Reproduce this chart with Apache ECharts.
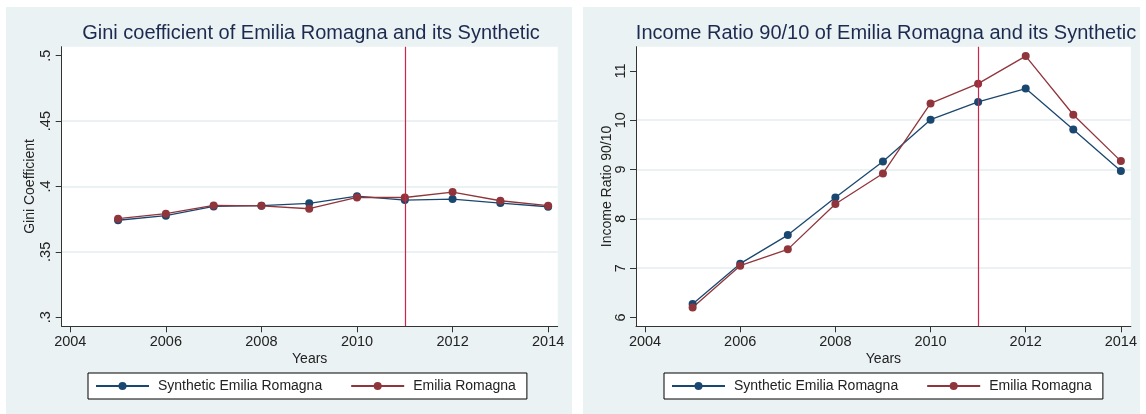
<!DOCTYPE html>
<html>
<head>
<meta charset="utf-8">
<script src="https://cdn.jsdelivr.net/npm/echarts@6/dist/echarts.min.js"></script>
<style>
  body { margin: 0; background: #fff; width: 1146px; height: 414px; position: relative; overflow: hidden; }
  .panel { position: absolute; top: 7px; height: 407px; background: #eaf2f3; }
  #left { left: 6px; width: 566px; }
  #right { left: 583px; width: 557px; }
</style>
</head>
<body>
<div id="left" class="panel"></div>
<div id="right" class="panel"></div>
<script>
const years = [2005, 2006, 2007, 2008, 2009, 2010, 2011, 2012, 2013, 2014];
const yearTicks = [2004, 2006, 2008, 2010, 2012, 2014];
const treatmentYear = 2011;

// Gini coefficient
const giniSynthetic = [0.3742, 0.3777, 0.3848, 0.3853, 0.3871, 0.3926, 0.3896, 0.3904, 0.3873, 0.3845];
const giniEmilia = [0.3754, 0.3792, 0.3855, 0.3852, 0.3830, 0.3916, 0.3916, 0.3957, 0.3891, 0.3853];
const giniTicks = [0.3, 0.35, 0.4, 0.45, 0.5];

// Income ratio 90/10
const ratioSynthetic = [6.27, 7.09, 7.67, 8.43, 9.16, 10.01, 10.37, 10.64, 9.81, 8.97];
const ratioEmilia = [6.20, 7.05, 7.38, 8.30, 8.92, 10.34, 10.74, 11.30, 10.11, 9.17];
const ratioTicks = [6, 7, 8, 9, 10, 11];

const FONT = "'Liberation Sans', Arial, sans-serif";
const BLUE = "#1a476f";
const RED = "#90353b";
const VLINE = "#c8274a";

const toPoints = (vals) => years.map((y, i) => [y, vals[i]]);

const buildOption = (cfg) => ({
  animation: false,
  textStyle: { fontFamily: FONT },
  title: {
    text: cfg.title,
    left: cfg.titleX,
    textAlign: "center",
    top: 16,
    padding: 0,
    textStyle: { fontSize: 20, fontWeight: "normal", color: "#1c2a4f", fontFamily: FONT },
  },
  grid: { left: cfg.gridLeft, right: cfg.gridRight, top: 39.7, bottom: 87.7, backgroundColor: "#fff", show: true, borderWidth: 0 },
  legend: {
    left: cfg.legendLeft,
    top: 366,
    itemWidth: 53,
    itemHeight: 10,
    itemGap: 28,
    padding: [6, 11, 6, 7],
    borderColor: "#000",
    borderWidth: 1,
    backgroundColor: "#fff",
    borderRadius: 0,
    textStyle: { fontSize: 14, color: "#222", fontFamily: FONT, padding: [0, 0, 0, 4] },
    data: ["Synthetic Emilia Romagna", "Emilia Romagna"],
  },
  xAxis: {
    type: "value",
    min: cfg.xMin,
    max: cfg.xMax,
    splitNumber: 5,
    name: "Years",
    nameLocation: "middle",
    nameGap: 26,
    nameMoveOverlap: false,
    nameTextStyle: { fontSize: 14, color: "#222", fontFamily: FONT },
    axisLine: { show: true, onZero: false, lineStyle: { color: "#333", width: 1 } },
    axisTick: { show: true, length: 6, customValues: yearTicks, lineStyle: { color: "#333" } },
    axisLabel: {
      customValues: yearTicks,
      margin: 8,
      fontSize: 14.5,
      color: "#222",
      fontFamily: FONT,
      formatter: (v) => String(Math.round(v)),
    },
    splitLine: { show: false },
  },
  yAxis: {
    type: "value",
    min: cfg.yMin,
    max: cfg.yMax,
    splitNumber: cfg.ySplit,
    name: cfg.yName,
    nameLocation: "middle",
    nameGap: cfg.yNameGap,
    nameMoveOverlap: false,
    nameTextStyle: { fontSize: 14, color: "#222", fontFamily: FONT },
    axisLine: { show: true, onZero: false, lineStyle: { color: "#333", width: 1 } },
    axisTick: { show: true, length: 6, customValues: cfg.yTicks, lineStyle: { color: "#333" } },
    axisLabel: {
      customValues: cfg.yTicks,
      rotate: 90,
      margin: 8,
      fontSize: 14.5,
      color: "#222",
      fontFamily: FONT,
      formatter: cfg.yFormat,
    },
    splitLine: { show: true, showMinLine: false, showMaxLine: false, lineStyle: { color: "#e6eef1", width: 1.5 } },
  },
  series: [
    {
      name: "Synthetic Emilia Romagna",
      type: "line",
      data: toPoints(cfg.synthetic),
      symbol: "circle",
      symbolSize: 8,
      lineStyle: { color: BLUE, width: 1.3 },
      itemStyle: { color: BLUE },
      markLine: {
        silent: true,
        symbol: ["none", "none"],
        label: { show: false },
        lineStyle: { color: VLINE, width: 1.2, type: "solid", opacity: 1 },
        emphasis: { disabled: true },
        data: [{ xAxis: treatmentYear, lineStyle: { color: VLINE, width: 1.2, type: "solid" } }],
      },
    },
    {
      name: "Emilia Romagna",
      type: "line",
      data: toPoints(cfg.actual),
      symbol: "circle",
      symbolSize: 8,
      lineStyle: { color: RED, width: 1.3 },
      itemStyle: { color: RED },
    },
  ],
});

const leftChart = echarts.init(document.getElementById("left"));
leftChart.setOption(
  buildOption({
    title: "Gini coefficient of Emilia Romagna and its Synthetic",
    titleX: 305,
    gridLeft: 55.7,
    gridRight: 14.3,
    legendLeft: 82,
    xMin: 2003.82,
    xMax: 2014.2,
    yMin: 0.2931,
    yMax: 0.5069,
    ySplit: 4,
    yTicks: giniTicks,
    yName: "Gini Coefficient",
    yNameGap: 25,
    yFormat: (v) => String(+v.toFixed(2)).replace(/^0/, ""),
    synthetic: giniSynthetic,
    actual: giniEmilia,
  })
);

const rightChart = echarts.init(document.getElementById("right"));
rightChart.setOption(
  buildOption({
    title: "Income Ratio 90/10 of Emilia Romagna and its Synthetic",
    titleX: 303,
    gridLeft: 53,
    gridRight: 5.7,
    legendLeft: 81,
    xMin: 2003.81,
    xMax: 2014.21,
    yMin: 5.82,
    yMax: 11.49,
    ySplit: 5,
    yTicks: ratioTicks,
    yName: "Income Ratio 90/10",
    yNameGap: 22,
    yFormat: (v) => String(v),
    synthetic: ratioSynthetic,
    actual: ratioEmilia,
  })
);
</script>
</body>
</html>
